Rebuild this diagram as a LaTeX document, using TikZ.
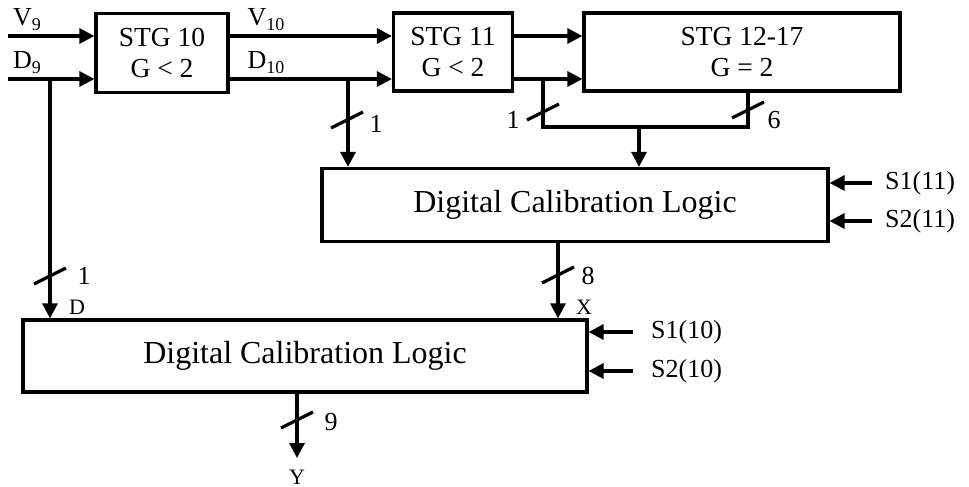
\documentclass[tikz,border=0pt]{standalone}
\usepackage{fontspec}
\setmainfont{Liberation Serif}
\usetikzlibrary{arrows.meta}
\newcommand{\sbs}[1]{\raisebox{-5pt}{\fontsize{18}{18}\selectfont #1}}
\begin{document}
\begin{tikzpicture}[x=1pt,y=-1pt,
  lw/.style={line width=3.2pt},
  blk/.style={draw,lw,inner sep=0pt,align=center},
  arr/.style={lw,-{Triangle[length=15pt,width=15pt]}},
  stgf/.style={font=\fontsize{27.5}{31}\selectfont},
  dclf/.style={font=\fontsize{32}{36}\selectfont},
  lab/.style={font=\fontsize{26}{30}\selectfont,inner sep=0pt},
  small/.style={font=\fontsize{22}{26}\selectfont,inner sep=0pt},
  busmark/.pic={\draw[lw] (-16,8) -- (16,-8);}
]
\useasboundingbox (0,0) rectangle (969,487);
% blocks
\node[blk,stgf,minimum width=132pt,minimum height=79pt] (s10) at (162,53) {STG 10\\G < 2};
\node[blk,stgf,minimum width=119pt,minimum height=78pt] (s11) at (453,52) {STG 11\\G < 2};
\node[blk,stgf,minimum width=316pt,minimum height=78pt] (s12) at (742,52) {STG 12-17\\G = 2};
\node[blk,dclf,minimum width=506pt,minimum height=73pt] (dcl1) at (575,205) {Digital Calibration Logic};
\node[blk,dclf,minimum width=564pt,minimum height=72pt] (dcl2) at (305,356) {Digital Calibration Logic};
% coordinates
\coordinate (v9in) at (8,36);
\coordinate (d9in) at (8,79);
\coordinate (b0) at (50,79);
\coordinate (b1) at (348,79);
\coordinate (b2) at (543,79);
\coordinate (j6) at (748,127);
\coordinate (jm) at (639,127);
\coordinate (s111) at (872,183);
\coordinate (s211) at (872,221);
\coordinate (s110) at (633,332);
\coordinate (s210) at (633,371);
\coordinate (o1) at (558,241);
\coordinate (o2) at (297,392);
\coordinate (yout) at (297,458);
% inputs
\draw[arr] (v9in) -- (v9in -| s10.west);
\draw[arr] (d9in) -- (d9in -| s10.west);
\node[lab] (lv9) at (27,20) {V\sbs{9}};
\node[lab] (ld9) at (27,63) {D\sbs{9}};
% stg10 -> stg11
\draw[arr] (s10.east |- v9in) -- (s11.west |- v9in);
\draw[arr] (s10.east |- d9in) -- (s11.west |- d9in);
\node[lab] (lv10) at (266,20) {V\sbs{10}};
\node[lab] (ld10) at (266,63) {D\sbs{10}};
% stg11 -> stg12
\draw[arr] (s11.east |- v9in) -- (s12.west |- v9in);
\draw[arr] (s11.east |- d9in) -- (s12.west |- d9in);
% branches
\draw[arr] (b0) -- (b0 |- dcl2.north);
\draw[arr] (b1) -- (b1 |- dcl1.north);
\draw[lw] (b2) |- (j6) -- (j6 |- s12.south);
\draw[arr] (jm) -- (jm |- dcl1.north);
% side inputs
\draw[arr] (s111) -- (s111 -| dcl1.east);
\draw[arr] (s211) -- (s211 -| dcl1.east);
\draw[arr] (s110) -- (s110 -| dcl2.east);
\draw[arr] (s210) -- (s210 -| dcl2.east);
\node[lab,anchor=west] (ls111) at (885,183) {S1(11)};
\node[lab,anchor=west] (ls211) at (885,221) {S2(11)};
\node[lab,anchor=west] (ls110) at (651,332) {S1(10)};
\node[lab,anchor=west] (ls210) at (651,371) {S2(10)};
% outputs
\draw[arr] (o1) -- (o1 |- dcl2.north);
\draw[arr] (o2) -- (yout);
% bus marks
\pic at (347,120) {busmark};
\pic at (543,112) {busmark};
\pic at (748,110) {busmark};
\pic at (50,276) {busmark};
\pic at (558,275) {busmark};
\pic at (297,420) {busmark};
\node[lab] (n1a) at (376,124) {1};
\node[lab] (n1b) at (513,120) {1};
\node[lab] (n6) at (774,120) {6};
\node[lab] (n1c) at (84,276) {1};
\node[lab] (n8) at (588,276) {8};
\node[lab] (n9) at (331,422) {9};
\node[small] (ld) at (77,307) {D};
\node[small] (lx) at (584,307) {X};
\node[small] (ly) at (297,477) {Y};
\end{tikzpicture}
\end{document}
